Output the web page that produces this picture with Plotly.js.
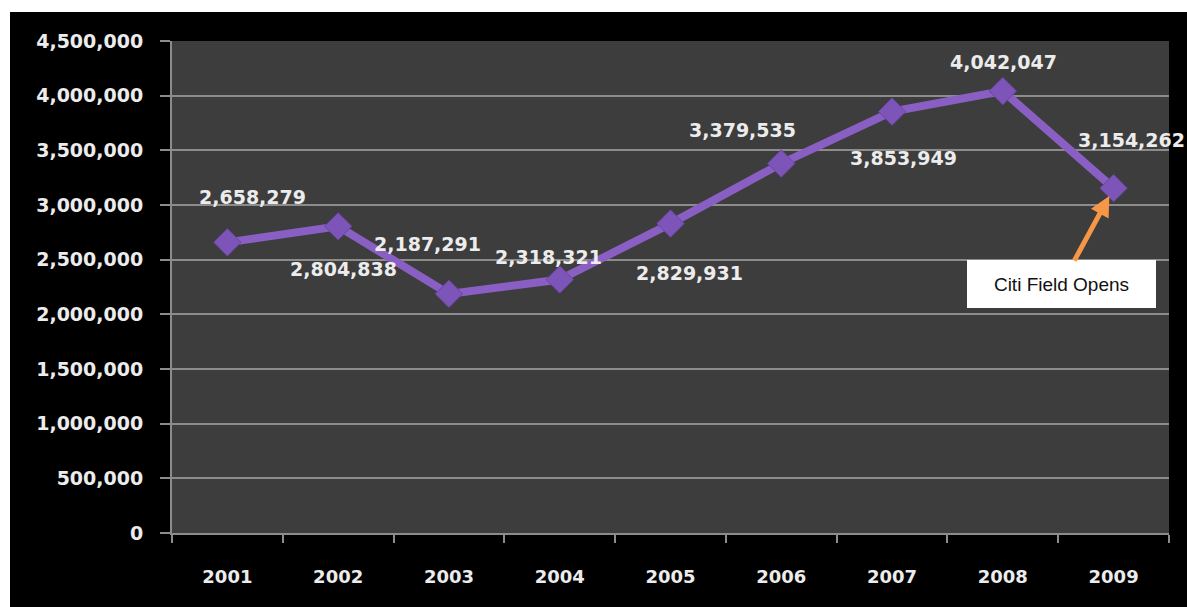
<!DOCTYPE html>
<html>
<head>
<meta charset="utf-8">
<script src="https://cdn.plot.ly/plotly-3.0.1.min.js"></script>
<style>
  html, body { margin: 0; padding: 0; background: #ffffff; width: 1187px; height: 607px; overflow: hidden; }
  #chart { position: absolute; left: 10px; top: 12px; width: 1177px; height: 595px; }
</style>
</head>
<body>
<div id="chart"></div>
<script>
// Data
const years = ["2001", "2002", "2003", "2004", "2005", "2006", "2007", "2008", "2009"];
const attendance = [2658279, 2804838, 2187291, 2318321, 2829931, 3379535, 3853949, 4042047, 3154262];
const yTickValues = [0, 500000, 1000000, 1500000, 2000000, 2500000, 3000000, 3500000, 4000000, 4500000];
const calloutText = "Citi Field Opens";
const calloutYear = "2009";

// Label offsets (pixels) relative to each point — styling only
const labelDx = [25, 5, -21, -11, 19, -39, 11, 1, 18];
const labelDy = [-45, 43, -50, -23, 49, -34, 46, -29, -48];

const fmt = v => v.toLocaleString('en-US');

const labelFont = { family: "DejaVu Sans", size: 19, color: "#ececec", weight: "bold" };

// on a category axis, annotation x given as category index
const annotations = years.map((yr, i) => ({
  x: i, y: attendance[i], xref: 'x', yref: 'y',
  text: '<b>' + fmt(attendance[i]) + '</b>',
  showarrow: false,
  xshift: labelDx[i], yshift: -labelDy[i],
  font: labelFont
}));

const ci = years.indexOf(calloutYear);
annotations.push({
  x: ci, y: attendance[ci], xref: 'x', yref: 'y',
  text: calloutText,
  showarrow: true,
  ax: -52, ay: 96,
  arrowhead: 2, arrowsize: 0.8, arrowwidth: 5, arrowcolor: "#f79646",
  standoff: 9,
  bgcolor: "#ffffff",
  bordercolor: "#ffffff",
  width: 185, height: 44,
  font: { family: "Liberation Sans", size: 19, color: "#111111" }
});

const trace = {
  type: 'scatter', mode: 'lines+markers',
  x: years, y: attendance,
  line: { color: "#8a5fc4", width: 8 },
  marker: { symbol: 'diamond', size: 21, color: "#7d55b8", line: { color: "#6a45a0", width: 1 } },
  hoverinfo: 'x+y', cliponaxis: false
};

const layout = {
  width: 1177, height: 595,
  margin: { l: 162, r: 18, t: 29, b: 74 },
  paper_bgcolor: "#000000",
  plot_bgcolor: "#3d3d3d",
  showlegend: false,
  xaxis: {
    type: 'category',
    range: [-0.5, years.length - 0.5],
    autorange: false,
    tickson: 'boundaries',
    ticks: 'outside', ticklen: 8, tickwidth: 2, tickcolor: "#8c8c8c",
    showline: true, linecolor: "#8c8c8c", linewidth: 2,
    showgrid: false,
    tickangle: 0,
    ticklabelstandoff: 26,
    tickfont: { family: "DejaVu Sans", size: 18, color: "#ececec", weight: "bold" }
  },
  yaxis: {
    range: [0, 4500000],
    autorange: false,
    tickvals: yTickValues,
    ticktext: yTickValues.map(v => '<b>' + fmt(v) + '</b>'),
    ticks: 'outside', ticklen: 10, tickwidth: 2, tickcolor: "#8c8c8c",
    showline: true, linecolor: "#8c8c8c", linewidth: 2,
    showgrid: true, gridcolor: "#8c8c8c", gridwidth: 2,
    zeroline: false,
    ticklabelstandoff: 13,
    tickfont: { family: "DejaVu Sans", size: 19, color: "#ececec" }
  },
  annotations: annotations
};

Plotly.newPlot('chart', [trace], layout, { displayModeBar: false, staticPlot: true });
</script>
</body>
</html>
